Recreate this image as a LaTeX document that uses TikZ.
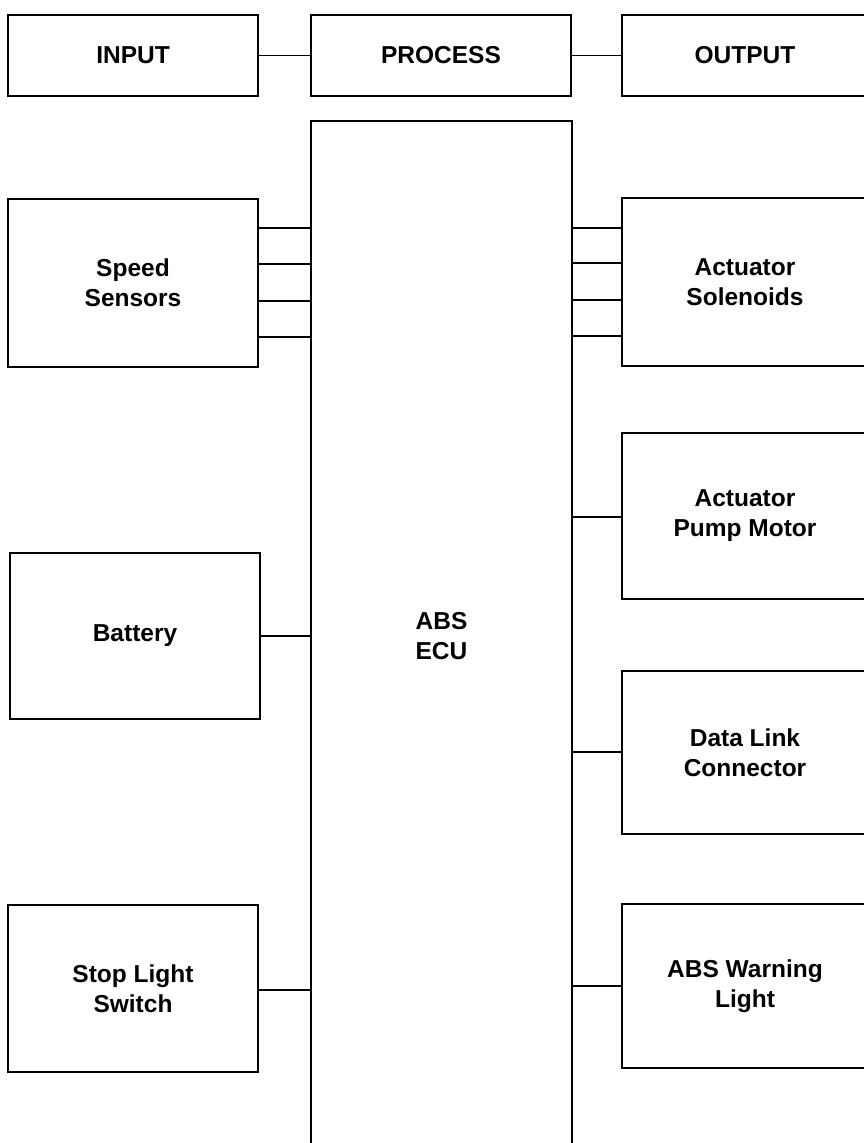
\documentclass[tikz,border=0pt]{standalone}
\usepackage{fontspec}
\setmainfont{Liberation Sans}
\begin{document}
\begin{tikzpicture}[x=1pt,y=-1pt,
  blk/.style={draw=black,line width=1.8pt,rectangle,inner sep=0pt,align=center,
    font=\bfseries\fontsize{24.5}{30}\selectfont},
  wire/.style={draw=black,line width=1.8pt}]
\useasboundingbox (0,0) rectangle (863,1143);
% top row
\node[blk,minimum width=250,minimum height=81] (inp) at (133,55.5) {INPUT};
\node[blk,minimum width=260,minimum height=81] (proc) at (441,55.5) {PROCESS};
\node[blk,minimum width=246,minimum height=81] (outp) at (745,55.5) {OUTPUT};
\draw[wire] (inp.east) -- (proc.west);
\draw[wire] (proc.east) -- (outp.west);
% ECU
\node[blk,minimum width=261,minimum height=1030] (ecu) at (441.5,636) {ABS\\ECU};
% inputs
\node[blk,minimum width=250,minimum height=168] (ss) at (133,283) {Speed\\Sensors};
\node[blk,minimum width=250,minimum height=166] (bat) at (135,636) {Battery};
\node[blk,minimum width=250,minimum height=167] (sls) at (133,988.5) {Stop Light\\Switch};
% outputs
\node[blk,minimum width=246,minimum height=168] (sol) at (745,282) {Actuator\\Solenoids};
\node[blk,minimum width=246,minimum height=166] (pump) at (745,516) {Actuator\\Pump Motor};
\node[blk,minimum width=246,minimum height=163] (dlc) at (745,752.5) {Data Link\\Connector};
\node[blk,minimum width=246,minimum height=164] (awl) at (745,986) {ABS Warning\\Light};
% input wires
\foreach \yy in {228,264,301,337}
  \draw[wire] (ss.east |- 0,\yy) -- (ecu.west |- 0,\yy);
\draw[wire] (bat.east |- 0,636) -- (ecu.west |- 0,636);
\draw[wire] (sls.east |- 0,990) -- (ecu.west |- 0,990);
% output wires
\foreach \yy in {228,263,300,336}
  \draw[wire] (ecu.east |- 0,\yy) -- (sol.west |- 0,\yy);
\draw[wire] (ecu.east |- 0,517) -- (pump.west |- 0,517);
\draw[wire] (ecu.east |- 0,752) -- (dlc.west |- 0,752);
\draw[wire] (ecu.east |- 0,986) -- (awl.west |- 0,986);
\end{tikzpicture}
\end{document}
